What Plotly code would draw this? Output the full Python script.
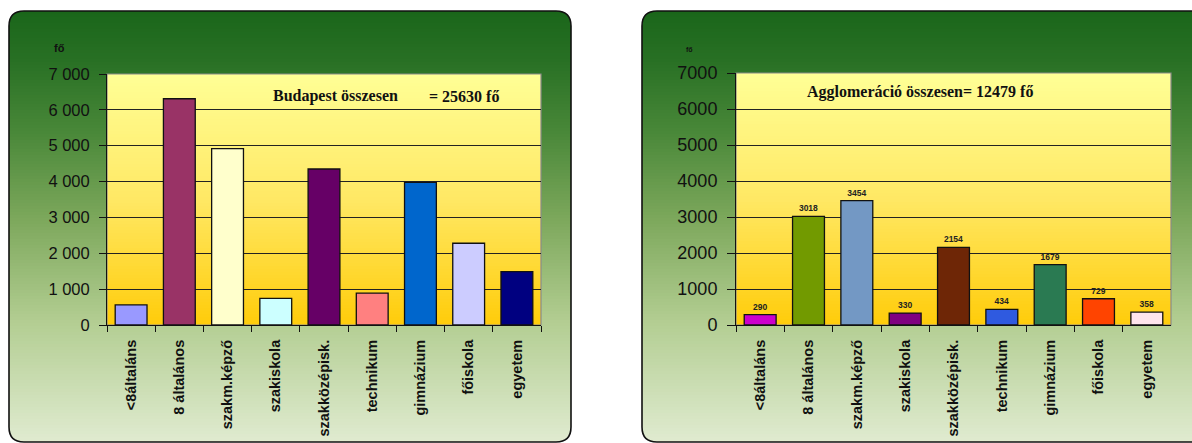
import plotly.graph_objects as go

W, H = 1192, 443

categories = ["<8általáns", "8 általános", "szakm.képző", "szakiskola", "szakközépisk.",
              "technikum", "gimnázium", "főiskola", "egyetem"]
budapest_values = [560, 6310, 4920, 740, 4350, 890, 3980, 2280, 1490]
agglo_values = [290, 3018, 3454, 330, 2154, 434, 1679, 729, 358]
budapest_total = 25630
agglo_total = 12479
y_unit = "fő"

budapest_colors = ["#9999ff", "#993366", "#ffffcc", "#ccffff", "#660066",
                   "#ff8080", "#0066cc", "#ccccff", "#000080"]
agglo_colors = ["#cc00cc", "#729a00", "#7398c4", "#800080", "#6e2606",
                "#2f5ae0", "#2a7a52", "#ff4400", "#ffe4ec"]

FONT = "Liberation Sans, Arial, sans-serif"
SERIF = "Liberation Serif, Times New Roman, serif"


def px(x):
    return x / W


def py(y):
    return 1 - y / H


def lerp_color(stops, y):
    for (y0, c0), (y1, c1) in zip(stops, stops[1:]):
        if y0 <= y <= y1:
            t = (y - y0) / (y1 - y0) if y1 != y0 else 0
            c = [round(a + (b - a) * t) for a, b in zip(c0, c1)]
            return "rgb(%d,%d,%d)" % tuple(c)
    c = stops[0][1] if y < stops[0][0] else stops[-1][1]
    return "rgb(%d,%d,%d)" % tuple(c)


panel_stops = [(11, (26, 102, 26)), (60, (40, 112, 36)), (130, (72, 135, 56)),
               (220, (125, 168, 92)), (320, (178, 205, 145)), (442, (224, 235, 208))]
plot_stops = [(73, (255, 255, 150)), (200, (255, 232, 100)), (325, (255, 204, 10))]

shapes = []


def add_gradient_rect(x0, x1, y0, y1, stops, step=3):
    y = y0
    while y < y1:
        yb = min(y + step, y1)
        shapes.append(dict(type="rect", xref="paper", yref="paper",
                           x0=px(x0), x1=px(x1), y0=py(min(yb + 0.8, y1)), y1=py(y),
                           fillcolor=lerp_color(stops, (y + yb) / 2),
                           line=dict(width=0), layer="below"))
        y = yb


def P(x, y):
    return "%.6f,%.6f" % (px(x), py(y))


def add_panel(x0, x1, y0, y1, r=15):
    add_gradient_rect(x0, x1, y0, y1, panel_stops)
    corners = [
        (x0, y0, x0 + r, y0, x0, y0 + r),
        (x1, y0, x1 - r, y0, x1, y0 + r),
        (x0, y1, x0 + r, y1, x0, y1 - r),
        (x1, y1, x1 - r, y1, x1, y1 - r),
    ]
    for cx, cy, ax, ay, bx, by in corners:
        path = "M%s L%s Q%s %s Z" % (P(cx, cy), P(ax, ay), P(cx, cy), P(bx, by))
        shapes.append(dict(type="path", xref="paper", yref="paper", path=path,
                           fillcolor="white", line=dict(width=0), layer="below"))
    border = ("M%s L%s Q%s %s L%s Q%s %s L%s Q%s %s L%s Q%s %s Z" % (
        P(x0 + r, y0), P(x1 - r, y0), P(x1, y0), P(x1, y0 + r),
        P(x1, y1 - r), P(x1, y1), P(x1 - r, y1),
        P(x0 + r, y1), P(x0, y1), P(x0, y1 - r),
        P(x0, y0 + r), P(x0, y0), P(x0 + r, y0)))
    shapes.append(dict(type="path", xref="paper", yref="paper", path=border,
                       line=dict(color="#111111", width=1.6), layer="below"))


add_panel(9, 571, 11, 442)
add_panel(642, 1210, 11, 442)

LP = (107, 541, 74, 325)
RP = (736, 1171, 73, 325)
add_gradient_rect(LP[0], LP[1], LP[2], LP[3], plot_stops)
add_gradient_rect(RP[0], RP[1], RP[2], RP[3], plot_stops)
for ax in ("", "2"):
    shapes.append(dict(type="rect", xref="x%s domain" % ax, yref="y%s domain" % ax,
                       x0=0, x1=1, y0=0, y1=1, line=dict(color="#8a8a8a", width=1.2),
                       layer="below"))

fig = go.Figure()
fig.add_trace(go.Bar(x=categories, y=budapest_values, marker=dict(
    color=budapest_colors, line=dict(color="#111111", width=1.3)),
    xaxis="x", yaxis="y", showlegend=False, hoverinfo="x+y"))
fig.add_trace(go.Bar(x=categories, y=agglo_values, marker=dict(
    color=agglo_colors, line=dict(color="#111111", width=1.3)),
    text=[str(v) for v in agglo_values], texttemplate="%{text}",
    textposition="outside", cliponaxis=False,
    textfont=dict(family=FONT, size=8.5, color="#222222", weight="bold"),
    xaxis="x2", yaxis="y2", showlegend=False, hoverinfo="x+y"))

xcommon = dict(type="category", range=[-0.5, 8.5], tickson="boundaries", ticks="outside",
               ticklen=6, tickcolor="#111111", showline=True, linecolor="#111111",
               linewidth=1, tickangle=-90, showgrid=False, zeroline=False, automargin=False,
               ticklabelstandoff=8,
               tickfont=dict(family=FONT, size=14.5, color="#111111", weight="bold"))
ycommon = dict(range=[0, 7000], dtick=1000, showgrid=True, gridcolor="#222222",
               gridwidth=1, ticks="outside", tickcolor="#111111", showline=True,
               linecolor="#111111", linewidth=1, zeroline=False, automargin=False)

annotations = [
    dict(text=y_unit, x=px(52), y=py(48), xref="paper", yref="paper", xanchor="left",
         yanchor="middle", showarrow=False,
         font=dict(family=FONT, size=11, color="#111111", weight="bold")),
    dict(text=y_unit, x=px(684), y=py(50), xref="paper", yref="paper", xanchor="left",
         yanchor="middle", showarrow=False,
         font=dict(family=FONT, size=7, color="#111111", weight="bold")),
    dict(text="Budapest összesen", x=px(271), y=py(96), xref="paper", yref="paper",
         xanchor="left", yanchor="middle", showarrow=False,
         font=dict(family=SERIF, size=16, color="#111111", weight="bold")),
    dict(text="= %d %s" % (budapest_total, y_unit), x=px(427), y=py(96), xref="paper",
         yref="paper", xanchor="left", yanchor="middle", showarrow=False,
         font=dict(family=SERIF, size=16, color="#111111", weight="bold")),
    dict(text="Agglomeráció összesen= %d %s" % (agglo_total, y_unit), x=px(805), y=py(92),
         xref="paper", yref="paper", xanchor="left", yanchor="middle", showarrow=False,
         font=dict(family=SERIF, size=16, color="#111111", weight="bold")),
]

fig.update_layout(
    width=W, height=H, margin=dict(l=0, r=0, t=0, b=0, pad=0, autoexpand=False),
    paper_bgcolor="white", plot_bgcolor="rgba(0,0,0,0)",
    separators=", ", bargap=0.34, showlegend=False,
    shapes=shapes, annotations=annotations,
    xaxis=dict(domain=[px(LP[0]), px(LP[1])], anchor="y", **xcommon),
    yaxis=dict(domain=[py(LP[3]), py(LP[2])], anchor="x", tickformat=",d", ticklen=7,
               ticklabelstandoff=6,
               tickfont=dict(family=FONT, size=16.5, color="#111111"), **ycommon),
    xaxis2=dict(domain=[px(RP[0]), px(RP[1])], anchor="y2", **xcommon),
    yaxis2=dict(domain=[py(RP[3]), py(RP[2])], anchor="x2", tickformat="d", ticklen=8,
                ticklabelstandoff=6,
                tickfont=dict(family=FONT, size=18, color="#111111"), **ycommon),
)

fig.write_html("out.html")
